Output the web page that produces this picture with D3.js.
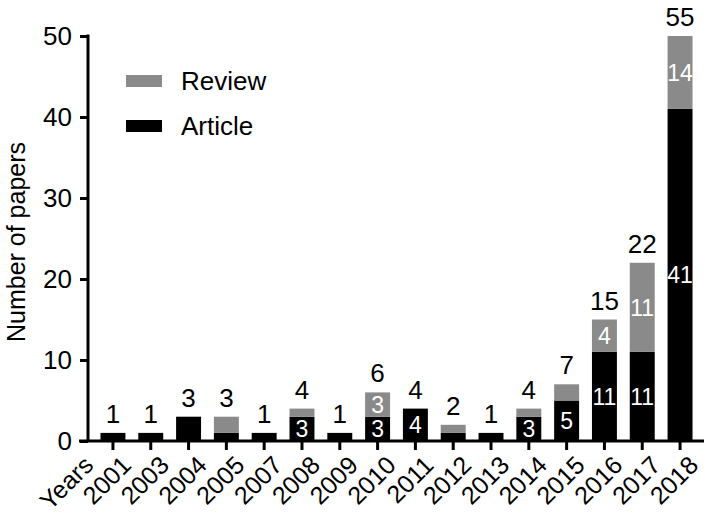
<!DOCTYPE html>
<html>
<head>
<meta charset="utf-8">
<script src="https://cdn.jsdelivr.net/npm/d3@7"></script>
<style>
  html, body { margin: 0; padding: 0; background: #fff; }
  svg { display: block; font-family: "Liberation Sans", Arial, sans-serif; }
</style>
</head>
<body>
<svg id="chart" width="709" height="516"></svg>
<script>
const years = ["2001","2003","2004","2005","2007","2008","2009","2010","2011","2012","2013","2014","2015","2016","2017","2018"];
const articles = [1,1,3,1,1,3,1,3,4,1,1,3,5,11,11,41];
const reviews  = [0,0,0,2,0,1,0,3,0,1,0,1,2,4,11,14];
const totals   = [1,1,3,3,1,4,1,6,4,2,1,4,7,15,22,55];
const yTicks = [0,10,20,30,40,50];
// which segment values are printed inside the bars
const articleLabelShown = [0,0,0,0,0,1,0,1,1,0,0,1,1,1,1,1];
const reviewLabelShown  = [0,0,0,0,0,0,0,1,0,0,0,0,0,1,1,1];

const svg = d3.select("#chart");
const gray = "#8a8a8a";
const FS = 26;
const XFS = 25;

const x = d3.scaleBand().domain(years).range([88, 705]).paddingInner(0.34).paddingOuter(0.33);
const y = d3.scaleLinear().domain([0, 50]).range([441, 36]).clamp(true);

// bars
const g = svg.append("g");
years.forEach((yr, i) => {
  const a = articles[i], r = reviews[i];
  g.append("rect").attr("x", x(yr)).attr("width", x.bandwidth())
    .attr("y", y(a)).attr("height", y(0) - y(a)).attr("fill", "#000");
  if (r > 0) {
    g.append("rect").attr("x", x(yr)).attr("width", x.bandwidth())
      .attr("y", y(a + r)).attr("height", y(a) - y(a + r)).attr("fill", gray);
  }
  const cx = x(yr) + x.bandwidth() / 2;
  svg.append("text").attr("x", cx).attr("y", y(totals[i]) - 10)
    .attr("text-anchor", "middle").attr("font-size", FS).attr("fill", "#000").text(totals[i]);
  if (articleLabelShown[i]) {
    svg.append("text").attr("x", cx).attr("y", (y(0) + y(a)) / 2).attr("dy", "0.36em")
      .attr("text-anchor", "middle").attr("font-size", 23).attr("fill", "#fff").text(a);
  }
  if (reviewLabelShown[i]) {
    svg.append("text").attr("x", cx).attr("y", (y(a) + y(a + r)) / 2).attr("dy", "0.36em")
      .attr("text-anchor", "middle").attr("font-size", 23).attr("fill", "#fff").text(r);
  }
});

// y axis
const yAxis = d3.axisLeft(y).tickValues(yTicks).tickSize(8).tickSizeOuter(0).tickPadding(8);
const ya = svg.append("g").attr("transform", "translate(88,0)").call(yAxis);
ya.select(".domain").attr("stroke-width", 3).attr("d", "M0,34.5V441");
ya.selectAll(".tick line").attr("stroke-width", 3);
ya.selectAll(".tick text").attr("font-size", FS).attr("font-family", "Liberation Sans, Arial, sans-serif").attr("fill", "#000");

// x axis
const xAxis = d3.axisBottom(x).tickSize(9).tickSizeOuter(0).tickPadding(4);
const xa = svg.append("g").attr("transform", "translate(0,441)").call(xAxis);
xa.select(".domain").attr("stroke-width", 3).attr("d", "M79,0H704");
xa.selectAll(".tick line").attr("stroke-width", 3);
xa.selectAll(".tick text").attr("font-size", XFS).attr("font-family", "Liberation Sans, Arial, sans-serif").attr("fill", "#000")
  .attr("text-anchor", "end").attr("dy", "0.72em")
  .attr("transform", "translate(7,13) rotate(-45)").attr("y", 0).attr("x", 0);

// "Years" label
svg.append("text").attr("transform", "translate(82,454) rotate(-45)").attr("dy", "0.72em")
  .attr("text-anchor", "end").attr("font-size", XFS).attr("fill", "#000").text("Years");

// y axis title
svg.append("text").attr("transform", "translate(25,242) rotate(-90)")
  .attr("text-anchor", "middle").attr("font-size", 25).attr("fill", "#000").text("Number of papers");

// legend
const legend = [{label: "Review", color: gray, y: 81}, {label: "Article", color: "#000", y: 126}];
legend.forEach(d => {
  svg.append("rect").attr("x", 126).attr("y", d.y - 6).attr("width", 36).attr("height", 12).attr("fill", d.color);
  svg.append("text").attr("x", 181).attr("y", d.y).attr("dy", "0.36em")
    .attr("font-size", FS).attr("fill", "#000").text(d.label);
});
</script>
</body>
</html>
